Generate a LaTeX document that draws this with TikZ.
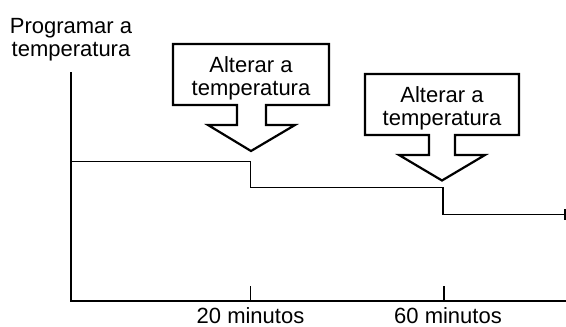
\documentclass[tikz,border=0pt]{standalone}
\usepackage{fontspec}
\setmainfont{Liberation Sans}
\begin{document}
\begin{tikzpicture}[x=1pt,y=-1pt,
  lbl/.style={anchor=base,inner sep=0pt,font=\fontsize{22}{23}\selectfont},
  axisline/.style={line width=2pt},
  stepline/.style={line width=1.3pt},
  callout/.style={line width=2.2pt,line join=miter,fill=white}]
\useasboundingbox (0,0) rectangle (566,327);
% axes
\coordinate (ytop) at (70.7,72);
\coordinate (orig) at (70.7,300.5);
\coordinate (xend) at (566,300.5);
\draw[axisline] (ytop) -- (orig) -- (xend);
% ticks
\coordinate (t1) at (250.5,300.5);
\coordinate (t2) at (444,300.5);
\draw[stepline] (t1) -- ++(0,-15);
\draw[stepline] (t2) -- ++(0,-15);
% step curve
\coordinate (s0) at (70.7,161.5);
\coordinate (s1) at (250.5,161.5);
\coordinate (s2) at (250.5,187.5);
\coordinate (s3) at (443,187.5);
\coordinate (s4) at (443,214.5);
\coordinate (s5) at (565,214.5);
\draw[stepline] (s0) -- (s1) -- (s2) -- (s3) -- (s4) -- (s5);
\draw[stepline] (565,209) -- (565,220);
% labels
\node[lbl] (prog1) at (71,33.3) {Programar a};
\node[lbl] (prog2) at (71,56.7) {temperatura};
\node[lbl] (min20) at (250.5,323.5) {20 minutos};
\node[lbl] (min60) at (448,323.5) {60 minutos};
% callout 1
\draw[callout] (173,44) -- (329,44) -- (329,105) -- (266,105) -- (266,125)
  -- (295,125) -- (251,151) -- (208,125) -- (237,125) -- (237,105)
  -- (173,105) -- cycle;
\node[lbl] (c1a) at (251,72.3) {Alterar a};
\node[lbl] (c1b) at (251,95) {temperatura};
% callout 2
\draw[callout] (365,74) -- (519,74) -- (519,135) -- (455,135) -- (455,155)
  -- (485,155) -- (442,180.5) -- (399,155) -- (429,155) -- (429,135)
  -- (365,135) -- cycle;
\node[lbl] (c2a) at (442,102.3) {Alterar a};
\node[lbl] (c2b) at (442,125) {temperatura};
\end{tikzpicture}
\end{document}
